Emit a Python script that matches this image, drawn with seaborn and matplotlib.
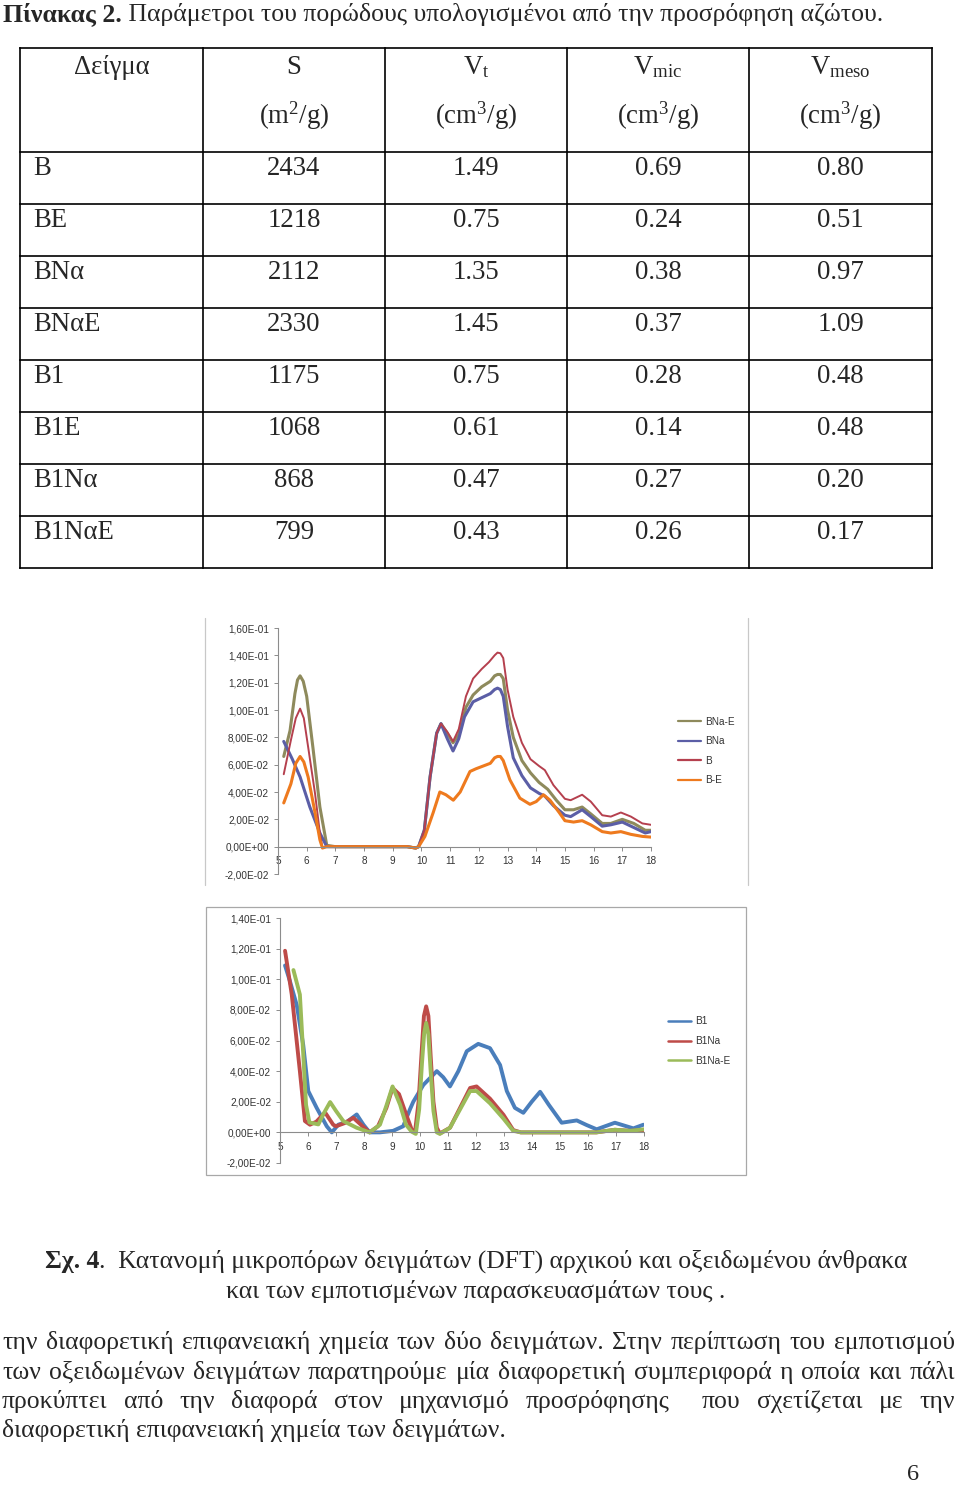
import pandas as pd
import seaborn as sns
import matplotlib
matplotlib.use('Agg')
import matplotlib.pyplot as plt
from matplotlib.patches import Rectangle
from matplotlib.ticker import FuncFormatter, MultipleLocator

# Πίνακας 2 - τιμές
samples = ['B', 'BE', 'BNα', 'BNαE', 'B1', 'B1E', 'B1Nα', 'B1NαE']
S_vals = [2434, 1218, 2112, 2330, 1175, 1068, 868, 799]
Vt_vals = [1.49, 0.75, 1.35, 1.45, 0.75, 0.61, 0.47, 0.43]
Vmic_vals = [0.69, 0.24, 0.38, 0.37, 0.28, 0.14, 0.27, 0.26]
Vmeso_vals = [0.80, 0.51, 0.97, 1.09, 0.48, 0.48, 0.20, 0.17]

col_titles = ['Δείγμα', 'S', r'$\mathrm{V}_{\mathrm{t}}$', r'$\mathrm{V}_{\mathrm{mic}}$', r'$\mathrm{V}_{\mathrm{meso}}$']
col_units = ['', r'(m$^{\mathrm{2}}$/g)', r'(cm$^{\mathrm{3}}$/g)', r'(cm$^{\mathrm{3}}$/g)', r'(cm$^{\mathrm{3}}$/g)']

# Διάγραμμα 1 (BNa-E, BNa, B, B-E)
x_bnae = [5.2, 5.42, 5.59, 5.68, 5.77, 5.88, 6.0, 6.22, 6.46, 6.7, 7.0, 8.0, 9.0, 9.5, 9.8, 9.9, 10.1, 10.3, 10.53, 10.68,
          10.9, 11.1, 11.3, 11.55, 11.8, 12.1, 12.4, 12.55, 12.65, 12.75, 12.85, 13.0, 13.2, 13.5, 13.8, 14.1, 14.4,
          14.7, 15.0, 15.3, 15.6, 15.9, 16.3, 16.6, 17.0, 17.4, 17.8, 18.0]
y_bnae = [0.066, 0.085, 0.112, 0.122, 0.125, 0.121, 0.11, 0.072, 0.029, 0.001, 0.0, 0.0, 0.0, 0.0, -0.001, 0.0, 0.012,
          0.051, 0.083, 0.09, 0.083, 0.076, 0.082, 0.102, 0.111, 0.117, 0.121, 0.125, 0.126, 0.126, 0.123, 0.10, 0.08,
          0.063, 0.054, 0.047, 0.042, 0.034, 0.027, 0.027, 0.029, 0.024, 0.017, 0.017, 0.020, 0.017, 0.012, 0.012]

x_bna = [5.2, 5.5, 5.77, 6.11, 6.46, 6.7, 7.0, 8.0, 9.0, 9.5, 9.8, 9.9, 10.1, 10.3, 10.53, 10.68, 10.9, 11.1, 11.3, 11.5,
         11.8, 12.1, 12.4, 12.55, 12.65, 12.75, 12.85, 13.0, 13.2, 13.5, 13.8, 14.1, 14.3, 14.6, 15.0, 15.2, 15.6,
         15.9, 16.3, 16.6, 17.0, 17.4, 17.8, 18.0]
y_bna = [0.077, 0.064, 0.051, 0.029, 0.010, 0.0, 0.0, 0.0, 0.0, 0.0, -0.001, 0.0, 0.012, 0.051, 0.083, 0.09, 0.079, 0.070,
         0.079, 0.095, 0.106, 0.109, 0.112, 0.115, 0.116, 0.115, 0.11, 0.088, 0.065, 0.052, 0.043, 0.039, 0.037, 0.03,
         0.023, 0.022, 0.027, 0.022, 0.015, 0.016, 0.018, 0.014, 0.010, 0.011]

x_b = [5.2, 5.45, 5.62, 5.77, 5.9, 6.05, 6.29, 6.46, 6.55, 6.7, 7.0, 8.0, 9.0, 9.5, 9.8, 9.9, 10.1, 10.3, 10.53, 10.68,
       10.9, 11.1, 11.3, 11.55, 11.8, 12.1, 12.35, 12.55, 12.65, 12.75, 12.85, 13.0, 13.2, 13.5, 13.8, 14.1, 14.3, 14.6,
       15.0, 15.2, 15.6, 15.9, 16.3, 16.6, 16.95, 17.3, 17.7, 18.0]
y_b = [0.053, 0.078, 0.094, 0.101, 0.094, 0.073, 0.039, 0.010, -0.001, 0.0, 0.0, 0.0, 0.0, 0.0, -0.001, 0.0, 0.012, 0.051,
       0.083, 0.09, 0.084, 0.077, 0.086, 0.11, 0.123, 0.13, 0.135, 0.140, 0.142, 0.1415, 0.138, 0.115, 0.095, 0.076,
       0.064, 0.059, 0.056, 0.045, 0.035, 0.034, 0.038, 0.033, 0.023, 0.022, 0.025, 0.022, 0.017, 0.016]

x_be = [5.2, 5.45, 5.62, 5.77, 5.9, 6.05, 6.29, 6.46, 6.55, 6.7, 7.0, 8.0, 9.0, 9.5, 9.8, 9.9, 10.12, 10.41, 10.64, 10.85,
        11.11, 11.35, 11.69, 11.9, 12.15, 12.4, 12.55, 12.65, 12.75, 12.85, 13.08, 13.43, 13.78, 14.0, 14.25, 14.48,
        14.8, 15.0, 15.3, 15.6, 15.9, 16.3, 16.6, 16.95, 17.3, 17.7, 18.0]
y_be = [0.032, 0.046, 0.061, 0.066, 0.062, 0.051, 0.025, 0.005, -0.001, 0.0, 0.0, 0.0, 0.0, 0.0, -0.001, 0.0, 0.0075,
        0.025, 0.040, 0.038, 0.034, 0.040, 0.055, 0.057, 0.059, 0.061, 0.065, 0.066, 0.066, 0.063, 0.049, 0.0355, 0.031,
        0.033, 0.038, 0.034, 0.025, 0.019, 0.018, 0.019, 0.016, 0.011, 0.010, 0.011, 0.009, 0.0075, 0.007]

# Διάγραμμα 2 (B1, B1Na, B1Na-E)
x_b1 = [5.18, 5.35, 5.6, 5.83, 6.01, 6.31, 6.67, 6.85, 7.08, 7.4, 7.74, 7.98, 8.2, 8.57, 9.04, 9.4, 9.64, 9.76, 10.12,
        10.6, 10.83, 11.07, 11.37, 11.67, 12.08, 12.5, 12.86, 13.1, 13.39, 13.69, 13.99, 14.29, 14.6, 15.06, 15.6,
        15.95, 16.31, 16.96, 17.62, 17.98]
y_b1 = [0.109, 0.099, 0.083, 0.057, 0.027, 0.016, 0.004, 0.0, 0.005, 0.007, 0.0117, 0.005, 0.0, 0.0, 0.001, 0.004, 0.015,
        0.020, 0.031, 0.040, 0.036, 0.030, 0.040, 0.053, 0.0578, 0.055, 0.044, 0.027, 0.016, 0.0128, 0.020, 0.0265,
        0.018, 0.0063, 0.0078, 0.0048, 0.002, 0.0063, 0.0026, 0.005]

x_b1na = [5.18, 5.42, 5.71, 5.89, 6.07, 6.3, 6.61, 6.9, 7.0, 7.3, 7.62, 7.98, 8.2, 8.5, 8.8, 9.02, 9.25, 9.5, 9.7, 9.82,
          9.95, 10.05, 10.14, 10.22, 10.3, 10.38, 10.48, 10.6, 10.71, 11.07, 11.43, 11.79, 12.02, 12.5, 12.98, 13.33,
          13.6, 14.5, 15.5, 16.3, 16.96, 17.5, 18.0]
y_b1na = [0.1186, 0.09, 0.04, 0.0074, 0.005, 0.007, 0.013, 0.005, 0.004, 0.006, 0.0095, 0.0035, 0.0, 0.004, 0.016,
          0.029, 0.025, 0.012, 0.002, 0.0, 0.02, 0.05, 0.076, 0.0823, 0.076, 0.05, 0.02, 0.003, -0.0007, 0.003, 0.016,
          0.029, 0.030, 0.022, 0.0115, 0.0015, 0.0, 0.0, 0.0, 0.0, 0.0017, 0.001, 0.0015]

x_b1nae = [5.48, 5.71, 5.83, 5.93, 6.05, 6.37, 6.55, 6.79, 7.0, 7.26, 7.74, 8.2, 8.57, 8.81, 9.02, 9.29, 9.5, 9.7, 9.85,
           9.97, 10.07, 10.15, 10.22, 10.3, 10.38, 10.48, 10.6, 10.71, 11.07, 11.43, 11.79, 12.02, 12.5, 12.98, 13.33,
           13.6, 14.5, 15.5, 16.3, 16.96, 17.5, 18.0]
y_b1nae = [0.106, 0.09, 0.051, 0.018, 0.0065, 0.0052, 0.012, 0.0198, 0.014, 0.0074, 0.003, 0.0, 0.005, 0.018, 0.030,
           0.018, 0.005, 0.0005, -0.001, 0.015, 0.045, 0.065, 0.0715, 0.064, 0.04, 0.014, 0.0, -0.001, 0.003, 0.015,
           0.027, 0.027, 0.019, 0.009, 0.001, 0.0, 0.0, 0.0, 0.0, 0.0017, 0.001, 0.002]

# Κείμενα σελίδας
title_bold = 'Πίνακας 2.'
title_rest = ' Παράμετροι του πορώδους υπολογισμένοι από την προσρόφηση αζώτου.'
caption_bold = 'Σχ. 4'
caption_rest = '.  Κατανομή μικροπόρων δειγμάτων (DFT) αρχικού και οξειδωμένου άνθρακα'
caption_line2 = 'και των εμποτισμένων παρασκευασμάτων τους .'
para_lines = ['την διαφορετική επιφανειακή χημεία των δύο δειγμάτων. Στην περίπτωση του εμποτισμού',
              'των οξειδωμένων δειγμάτων παρατηρούμε μία διαφορετική συμπεριφορά η οποία και πάλι',
              'προκύπτει από την διαφορά στον μηχανισμό προσρόφησης  που σχετίζεται με την',
              'διαφορετική επιφανειακή χημεία των δειγμάτων.']
page_no = '6'

# Στυλ
sns.set_theme(style='white')
SERIF = ['Liberation Serif', 'DejaVu Serif']
SANS = 'Liberation Sans'
plt.rcParams['font.family'] = SERIF
plt.rcParams['mathtext.fontset'] = 'custom'
plt.rcParams['mathtext.rm'] = 'Liberation Serif'
plt.rcParams['mathtext.it'] = 'Liberation Serif:italic'
plt.rcParams['mathtext.bf'] = 'Liberation Serif:bold'

W, H = 960, 1485
fig = plt.figure(figsize=(9.6, 14.85), dpi=100)
fig.patch.set_facecolor('white')
pg = fig.add_axes([0, 0, 1, 1])
pg.set_xlim(0, W)
pg.set_ylim(H, 0)
pg.set_autoscale_on(False)
pg.axis('off')
R = fig.canvas.get_renderer()


def width_px(s, size, weight='normal'):
    t = pg.text(0, 0, s, fontsize=size, fontweight=weight)
    w = t.get_window_extent(R).width
    t.remove()
    return w


def px_axes(l, t, r, b):
    return fig.add_axes([l / W, 1 - b / H, (r - l) / W, (b - t) / H])


# ---- τίτλος ----
fs_title = 20 * 875 / (width_px(title_bold, 20, 'bold') + width_px(title_rest, 20))
pg.text(3, 21, title_bold, fontsize=fs_title, fontweight='bold', va='baseline')
pg.text(3 + width_px(title_bold, fs_title, 'bold'), 21, title_rest, fontsize=fs_title, va='baseline')

# ---- πίνακας ----
col_edges = [20, 203, 385, 567, 749, 932]
row_edges = [48, 152, 204, 256, 308, 360, 412, 464, 516, 568]
for xe in col_edges:
    pg.plot([xe, xe], [row_edges[0], row_edges[-1]], color='black', lw=1.2, solid_capstyle='projecting')
for ye in row_edges:
    pg.plot([col_edges[0], col_edges[-1]], [ye, ye], color='black', lw=1.2, solid_capstyle='projecting')

fs_tab = fs_title * 1.04
centers = [(col_edges[i] + col_edges[i + 1]) / 2 for i in range(5)]
for i in range(5):
    pg.text(centers[i], 74, col_titles[i], fontsize=fs_tab, ha='center', va='baseline')
    if col_units[i]:
        pg.text(centers[i], 124, col_units[i], fontsize=fs_tab, ha='center', va='baseline')

for r, name in enumerate(samples):
    yb = row_edges[r + 1] + 23
    pg.text(33, yb, name, fontsize=fs_tab, ha='left', va='baseline')
    vals = [f'{S_vals[r]}', f'{Vt_vals[r]:.2f}', f'{Vmic_vals[r]:.2f}', f'{Vmeso_vals[r]:.2f}']
    for c, v in enumerate(vals):
        pg.text(centers[c + 1], yb, v, fontsize=fs_tab, ha='center', va='baseline')

# ---- διαγράμματα ----
AX_GRAY = '#8C8C8C'
TXT = '#333333'
SMALL = 7.2


def sci(v, pos):
    return f'{round(v, 6):.2E}'.replace('.', ',')


def style_axes(ax, ymin, ymax):
    ax.set_xlim(5, 18)
    ax.set_ylim(ymin, ymax)
    ax.xaxis.set_major_locator(MultipleLocator(1))
    ax.yaxis.set_major_locator(MultipleLocator(0.02))
    ax.yaxis.set_major_formatter(FuncFormatter(sci))
    for s in ['top', 'right']:
        ax.spines[s].set_visible(False)
    ax.spines['bottom'].set_position(('data', 0))
    for s in ['left', 'bottom']:
        ax.spines[s].set_color(AX_GRAY)
        ax.spines[s].set_linewidth(0.8)
    ax.tick_params(direction='out', length=3, width=0.7, color=AX_GRAY, labelsize=SMALL,
                   labelcolor=TXT, bottom=True, left=True, labelfontfamily=SANS)
    ax.tick_params(axis='x', pad=4)
    ax.set_xlabel('')
    ax.set_ylabel('')
    ax.set_facecolor('none')


def draw_chart(ax, series, legend_xy, handle_lw):
    frames = [pd.DataFrame({'x': xs, 'y': ys, 'series': name}) for name, xs, ys, _, _ in series]
    df = pd.concat(frames, ignore_index=True)
    for name, _, _, color, lw in series:
        sns.lineplot(data=df[df['series'] == name], x='x', y='y', color=color, lw=lw, ax=ax,
                     label=name, sort=False, estimator=None, solid_joinstyle='round', solid_capstyle='round')
    leg = ax.legend(loc='center left', bbox_to_anchor=(legend_xy[0] / W, 1 - legend_xy[1] / H),
                    bbox_transform=fig.transFigure, frameon=False, prop={'family': SANS, 'size': SMALL},
                    labelcolor=TXT, handlelength=2.3, labelspacing=0.95, handletextpad=0.4,
                    borderpad=0, borderaxespad=0)
    for h in leg.legend_handles:
        h.set_linewidth(handle_lw)


# πλαίσια διαγραμμάτων
for xe in [205, 748]:
    pg.plot([xe, xe], [618, 885], color='#C8C8C8', lw=0.9)
pg.add_patch(Rectangle((206, 907), 540, 268, fill=False, ec='#A8A8A8', lw=0.9))

ax1 = px_axes(278, 628, 651, 874)
series1 = [('BNa-E', x_bnae, y_bnae, '#8E8A5C', 2.2),
           ('BNa', x_bna, y_bna, '#5B5EA6', 2.2),
           ('B', x_b, y_b, '#B5404E', 1.4),
           ('B-E', x_be, y_be, '#EE7A1E', 2.2)]
draw_chart(ax1, series1, (678, 751), 1.6)
style_axes(ax1, -0.02, 0.16)

ax2 = px_axes(280, 918, 644, 1163)
series2 = [('B1', x_b1, y_b1, '#4A7EBB', 2.8),
           ('B1Na', x_b1na, y_b1na, '#BE4B48', 2.8),
           ('B1Na-E', x_b1nae, y_b1nae, '#9BBB59', 2.8)]
draw_chart(ax2, series2, (668, 1041), 1.8)
style_axes(ax2, -0.02, 0.14)

# ---- λεζάντα ----
fs_cap = 20 * 496 / width_px(caption_line2, 20)
wb = width_px(caption_bold, fs_cap, 'bold')
wr = width_px(caption_rest, fs_cap)
x0 = 476 - (wb + wr) / 2
pg.text(x0, 1268, caption_bold, fontsize=fs_cap, fontweight='bold', va='baseline')
pg.text(x0 + wb, 1268, caption_rest, fontsize=fs_cap, va='baseline')
pg.text(476, 1298, caption_line2, fontsize=fs_cap, ha='center', va='baseline')

# ---- παράγραφος (πλήρης στοίχιση) ----
fs_par = 20 * 501 / width_px(para_lines[-1], 20)
para_base = [1349, 1379, 1408, 1437]
for i, line in enumerate(para_lines):
    yb = para_base[i]
    if i == len(para_lines) - 1:
        pg.text(2, yb, line, fontsize=fs_par, va='baseline')
        continue
    words = line.split(' ')
    widths = [width_px(w, fs_par) if w else 0 for w in words]
    gap = (955 - 2 - sum(widths)) / (len(words) - 1)
    x = 2
    for w, wd in zip(words, widths):
        if w:
            pg.text(x, yb, w, fontsize=fs_par, va='baseline')
        x += wd + gap

pg.text(913, 1480, page_no, fontsize=fs_par * 0.95, ha='center', va='baseline')

fig.savefig('out.png', dpi=100)
